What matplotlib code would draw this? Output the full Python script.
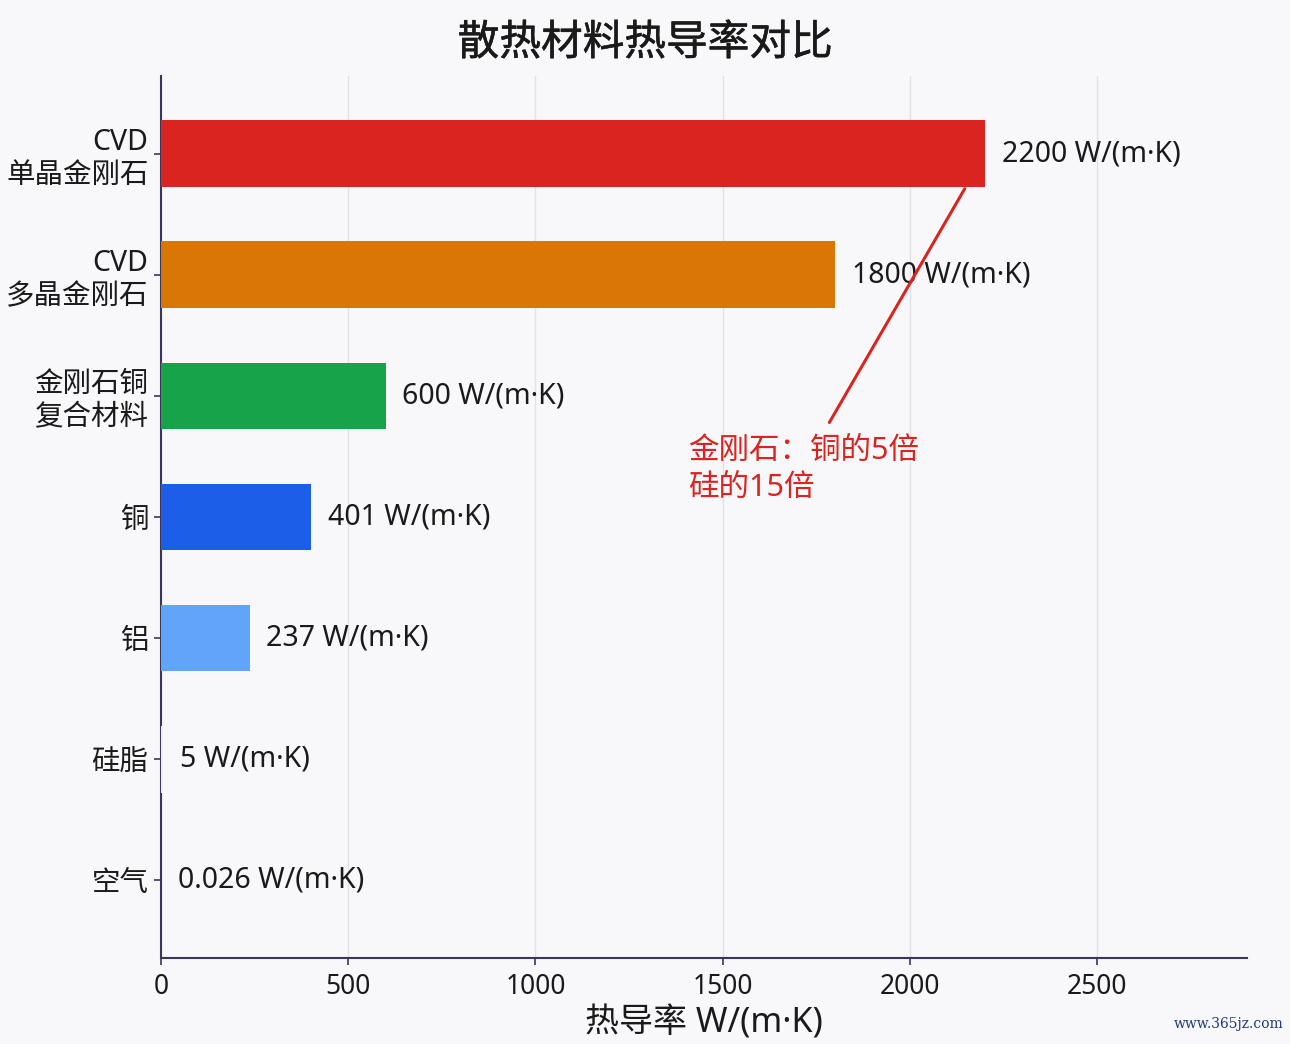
import matplotlib
matplotlib.use("Agg")
import matplotlib.pyplot as plt
import matplotlib.patheffects as pe

plt.rcParams['font.family'] = ['Noto Sans', 'Noto Sans CJK SC', 'DejaVu Sans']

categories = ["CVD\n单晶金刚石", "CVD\n多晶金刚石", "金刚石铜\n复合材料", "铜", "铝", "硅脂", "空气"]
values = [2200, 1800, 600, 401, 237, 5, 0.026]
value_labels = ["2200 W/(m·K)", "1800 W/(m·K)", "600 W/(m·K)", "401 W/(m·K)",
                "237 W/(m·K)", "5 W/(m·K)", "0.026 W/(m·K)"]
colors = ["#d92420", "#d97706", "#16a34a", "#1d5ee8", "#60a5fa", "#eef0f4", "#f2f2f5"]
xticks = [0, 500, 1000, 1500, 2000, 2500]
title = "散热材料热导率对比"
xlabel = "热导率 W/(m·K)"
note = "金刚石：铜的5倍\n硅的15倍"

bg = "#f8f8fb"
spine_c = "#3b3658"
text_c = "#1a1a1a"

fig = plt.figure(figsize=(12.9, 10.44), dpi=100, facecolor=bg)
ax = fig.add_axes([0.1248, 0.0824, 0.8419, 0.8448], facecolor=bg)

ypos = list(range(len(categories)))
ax.barh(ypos, values, height=0.55, color=colors, zorder=3)

for y, v, lab in zip(ypos, values, value_labels):
    ax.annotate(lab, xy=(v, y), xytext=(12, 0), textcoords="offset points",
                ha="left", va="center", fontsize=20.5, color=text_c, zorder=4)

ax.set_xlim(0, 2900)
ax.set_ylim(len(categories) - 1 + 0.64, -0.64)
ax.set_yticks(ypos)
ax.set_yticklabels(categories, fontsize=20.5, color=text_c, linespacing=1.17)
ax.set_xticks(xticks)
ax.set_xticklabels([str(t) for t in xticks], fontsize=19, color=text_c)
ax.tick_params(axis="both", colors=spine_c, labelcolor=text_c, length=5, width=1.2)
ax.tick_params(axis="y", pad=4)
ax.tick_params(axis="x", pad=6)

ax.xaxis.grid(True, color="#e2e2ea", linewidth=1, zorder=0)
ax.set_axisbelow(True)
for s in ["top", "right"]:
    ax.spines[s].set_visible(False)
for s in ["left", "bottom"]:
    ax.spines[s].set_color(spine_c)
    ax.spines[s].set_linewidth(1.5)

ax.set_xlabel(xlabel, fontsize=24.5, color=text_c, labelpad=4)
fig.text(0.5, 0.958, title, ha="center", va="center", fontsize=30,
         color=text_c,
         path_effects=[pe.withStroke(linewidth=0.4, foreground=text_c)])

ax.annotate("", xy=(2150, 0.27), xytext=(1781, 2.24),
            arrowprops=dict(arrowstyle="-", color="#d92420", lw=2.2), zorder=5)
ax.text(1408, 2.33, note, ha="left", va="top", fontsize=22,
        color="#d92420", linespacing=1.3, zorder=5)

fig.text(0.995, 0.012, "www.365jz.com", ha="right", va="bottom", fontsize=10,
         color="#1f3a7a", family=["DejaVu Serif"])

fig.savefig("out.png", dpi=100, facecolor=bg)
